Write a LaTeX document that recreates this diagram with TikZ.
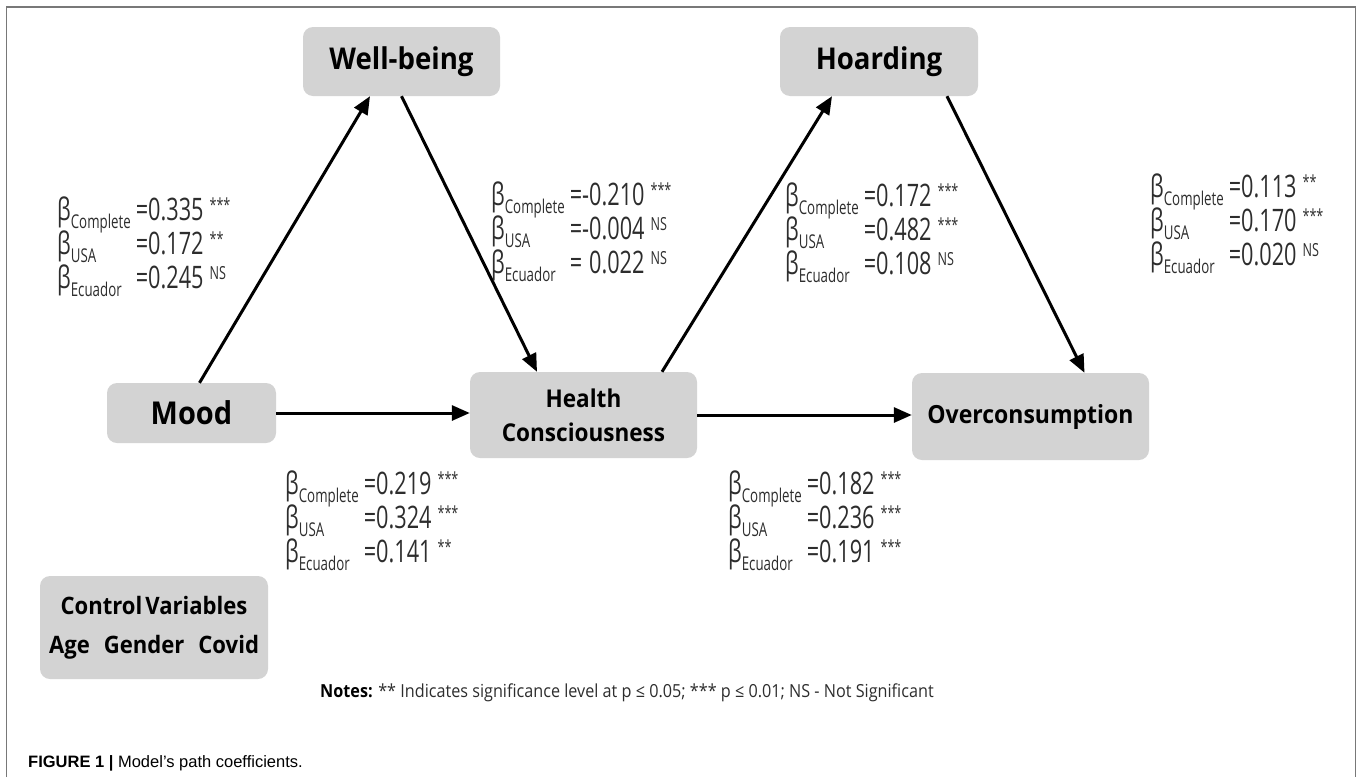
\documentclass[tikz,border=0pt]{standalone}
\usepackage{fontspec}
\usetikzlibrary{arrows.meta}
\setmainfont{Open Sans}
\newfontfamily\lblfont[FakeStretch=0.92]{Open Sans}
\newfontfamily\coeffont[FakeStretch=0.7]{Open Sans}
\newfontfamily\notefont[FakeStretch=0.9]{Open Sans}
\newfontfamily\capfont{Liberation Sans}
\definecolor{boxgray}{RGB}{211,211,211}
\definecolor{framegray}{RGB}{120,120,120}
\definecolor{coefcol}{RGB}{45,45,45}
\newcommand\bsub[1]{\raisebox{-8pt}[0pt][0pt]{\fontsize{19}{19}\selectfont #1}}
\newcommand\bsup[1]{\raisebox{9pt}[0pt][0pt]{\fontsize{18}{18}\selectfont #1}}
\newcommand\rowb[3]{β\bsub{#1} & =#2\hspace{6pt}\bsup{#3}}
\tikzset{
  box/.style={fill=boxgray, rounded corners=10pt, inner sep=0pt, align=center,
    font=\lblfont\bfseries\fontsize{30}{33}\selectfont},
  arr/.style={line width=3pt, -{Triangle[length=18pt,width=15pt]}},
  coef/.style={inner sep=0pt, anchor=base west, text=coefcol,
    font=\coeffont\fontsize{31}{34}\selectfont},
}
\begin{document}
\begin{tikzpicture}[x=1pt,y=-1pt]
\useasboundingbox (0,0) rectangle (1360,777);
\draw[framegray, line width=1.5pt] (6.5,777) -- (6.5,7) -- (1355.5,7) -- (1355.5,777);

\node[box, minimum width=197pt, minimum height=69pt] (wb) at (401.5,61.5) {Well-being};
\node[box, minimum width=198pt, minimum height=69pt] (hoard) at (879,61.5) {Hoarding};
\node[box, minimum width=169pt, minimum height=60pt, font=\lblfont\bfseries\fontsize{31.5}{34}\selectfont] (mood) at (191.5,413) {Mood};
\node[box, minimum width=227pt, minimum height=86pt, font=\lblfont\bfseries\fontsize{24.5}{34}\selectfont] (health) at (583.5,415) {Health\\Consciousness};
\node[box, minimum width=237pt, minimum height=87pt, font=\lblfont\bfseries\fontsize{25}{30}\selectfont] (ov) at (1030.5,416.5) {Overconsumption};
\node[box, minimum width=228pt, minimum height=103pt, font=\lblfont\bfseries\fontsize{24}{39}\selectfont] (ctrl) at (154,627.5) {Control\hspace{3pt}Variables\\Age\hspace{14pt}Gender\hspace{14pt}Covid};

\draw[arr] ([xshift=8pt]mood.north) -- ([xshift=-31.5pt]wb.south);
\draw[arr] (wb.south) -- ([xshift=-46.5pt]health.north);
\draw[arr] ([xshift=78.5pt]health.north) -- ([xshift=-47pt]hoard.south);
\draw[arr] ([xshift=68pt]hoard.south) -- ([xshift=54pt]ov.north);
\draw[arr] (mood.east) -- (mood.east -| health.west);
\draw[arr] (health.east) -- (health.east -| ov.west);

\node[coef] (c1) at (57,220) {\begin{tabular}[t]{@{}l@{\hspace{5pt}}l@{}}
\rowb{Complete}{0.335}{***}\\ \rowb{USA}{0.172}{**}\\ \rowb{Ecuador}{0.245}{NS}\end{tabular}};
\node[coef] (c2) at (491,205) {\begin{tabular}[t]{@{}l@{\hspace{5pt}}l@{}}
\rowb{Complete}{-0.210}{***}\\ \rowb{USA}{-0.004}{NS}\\ \rowb{Ecuador}{\phantom{-}0.022}{NS}\end{tabular}};
\node[coef] (c3) at (785,206) {\begin{tabular}[t]{@{}l@{\hspace{5pt}}l@{}}
\rowb{Complete}{0.172}{***}\\ \rowb{USA}{0.482}{***}\\ \rowb{Ecuador}{0.108}{NS}\end{tabular}};
\node[coef] (c4) at (1150,197) {\begin{tabular}[t]{@{}l@{\hspace{5pt}}l@{}}
\rowb{Complete}{0.113}{**}\\ \rowb{USA}{0.170}{***}\\ \rowb{Ecuador}{0.020}{NS}\end{tabular}};
\node[coef] (c5) at (285,494) {\begin{tabular}[t]{@{}l@{\hspace{5pt}}l@{}}
\rowb{Complete}{0.219}{***}\\ \rowb{USA}{0.324}{***}\\ \rowb{Ecuador}{0.141}{**}\end{tabular}};
\node[coef] (c6) at (728,494) {\begin{tabular}[t]{@{}l@{\hspace{5pt}}l@{}}
\rowb{Complete}{0.182}{***}\\ \rowb{USA}{0.236}{***}\\ \rowb{Ecuador}{0.191}{***}\end{tabular}};

\node[inner sep=0pt, anchor=base west, text=coefcol, font=\notefont\fontsize{18}{20}\selectfont] (notes) at (320,697)
  {{\bfseries\color{black}Notes:} ** Indicates significance level at p ≤ 0.05; *** p ≤ 0.01; NS - Not Significant};

\node[inner sep=0pt, anchor=base west, font=\capfont\fontsize{16.5}{18}\selectfont] (cap) at (28,767)
  {{\bfseries FIGURE 1 |} Model’s path coefficients.};
\end{tikzpicture}
\end{document}
